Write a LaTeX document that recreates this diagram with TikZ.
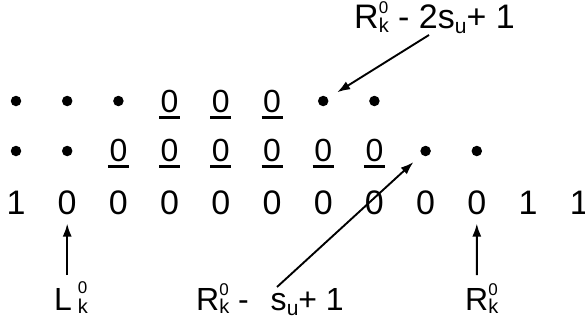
\documentclass[tikz,border=0pt]{standalone}
\usepackage{fontspec}
\setmainfont{Liberation Sans}
\usetikzlibrary{arrows.meta}
\newcommand\scr[2]{\rlap{\raisebox{15pt}{\fontsize{17}{17}\selectfont #2}}\raisebox{-3.5pt}{\fontsize{20}{20}\selectfont #1}}
\newcommand\scrL[2]{\rlap{\raisebox{17pt}{\fontsize{17}{17}\selectfont #2}}\raisebox{-3.5pt}{\fontsize{20}{20}\selectfont #1}}
\newcommand\subu{\raisebox{-5pt}{\fontsize{21}{21}\selectfont u}}
\begin{document}
\begin{tikzpicture}[x=1pt,y=-1pt,
  dot/.style={circle,fill,inner sep=0pt,minimum size=10.5pt},
  dig/.style={anchor=base,inner sep=0pt,font=\fontsize{34}{34}\selectfont},
  udig/.style={anchor=base,inner sep=0pt,font=\fontsize{32}{32}\selectfont},
  uline/.style={line width=2.4pt},
  arr/.style={line width=1.9pt,-{Latex[length=13pt,width=9pt]}},
  lab/.style={anchor=base west,inner sep=0pt,font=\fontsize{32}{32}\selectfont},
  toplab/.style={lab,font=\fontsize{34}{34}\selectfont}]
\useasboundingbox (0,0) rectangle (585,329);
% top row
\foreach \i in {0,1,2,6,7} \node[dot] (t\i) at ({16+51.2*\i},101) {};
\foreach \i in {3,4,5} {
  \node[udig] (t\i) at ({16+51.2*\i},112) {0};
  \draw[uline] ([xshift=-10.5pt,yshift=-5.5pt]t\i.base) -- ++(21,0);
}
% middle row
\foreach \i in {0,1,8,9} \node[dot] (m\i) at ({16+51.2*\i},151) {};
\foreach \i in {2,...,7} {
  \node[udig] (m\i) at ({16+51.2*\i},161) {0};
  \draw[uline] ([xshift=-10.5pt,yshift=-5.5pt]m\i.base) -- ++(21,0);
}
% bottom row
\foreach \v [count=\c from 0] in {1,0,0,0,0,0,0,0,0,0,1,1}
  \node[dig] (b\c) at ({16+51.2*\c},214) {\makebox[0pt]{\v}};
% labels
\node[lab] (lL) at (54,310) {L\hspace{6pt}\scrL{k}{0}};
\node[lab] (lM) at (196,310) {R\scr{k}{0} -\hspace{13pt} s\subu+ 1};
\node[lab] (lR) at (465,310) {R\scr{k}{0}};
\node[toplab] (lT) at (354,29) {R\scr{k}{0} - 2s\subu+ 1};
% arrows
\coordinate (aL) at (67.2,275);
\coordinate (aR) at (476.8,275);
\coordinate (aM) at (277,287);
\coordinate (aT) at (429,35);
\draw[arr,shorten >=9pt] (aL) -- (b1);
\draw[arr,shorten >=9pt] (aR) -- (b9);
\draw[arr,shorten >=11pt] (aM) -- (m8);
\draw[arr,shorten >=11pt] (aT) -- (t6);
\end{tikzpicture}
\end{document}
